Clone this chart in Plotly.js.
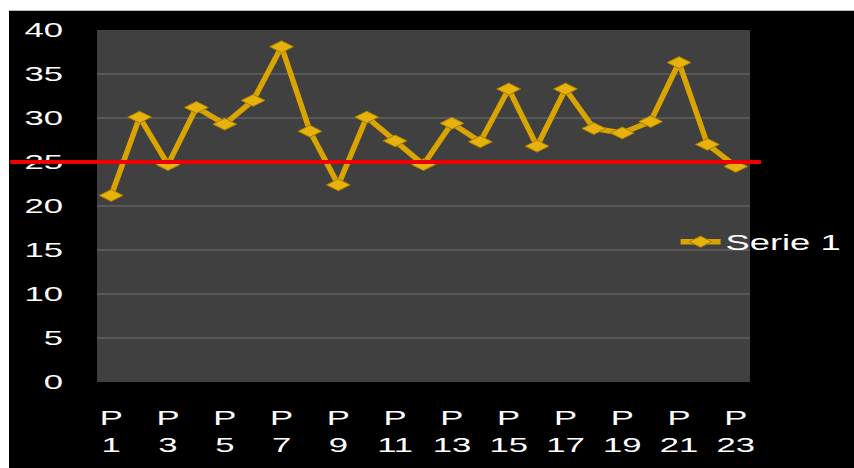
<!DOCTYPE html>
<html>
<head>
<meta charset="utf-8">
<script src="https://cdn.plot.ly/plotly-3.0.1.min.js"></script>
<style>
  html, body { margin: 0; padding: 0; background: #ffffff; }
  #wrap { position: absolute; left: 9px; top: 10px; width: 845px; height: 458px; border-top: 1px solid #bbbbbb; box-sizing: border-box; }
  #chart { width: 845px; height: 457px; }
</style>
</head>
<body>
<div id="wrap"><div id="chart"></div></div>
<script>
const categories = ["P 1","P 2","P 3","P 4","P 5","P 6","P 7","P 8","P 9","P 10","P 11","P 12",
                    "P 13","P 14","P 15","P 16","P 17","P 18","P 19","P 20","P 21","P 22","P 23"];
const serie1 = [21.2, 30.1, 24.7, 31.2, 29.3, 32.0, 38.1, 28.5, 22.4, 30.1, 27.4, 24.7,
                29.4, 27.3, 33.3, 26.8, 33.3, 28.8, 28.3, 29.6, 36.3, 27.0, 24.5];
const seriesName = "Serie 1";
const threshold = 25;
const yTicks = [0, 5, 10, 15, 20, 25, 30, 35, 40];
const xTickCats = categories.filter((c, i) => i % 2 === 0);
const xTickText = xTickCats.map(c => c.replace(" ", "<br>"));

const gold = "#d9a400";
const fontFamily = "Liberation Sans, Arial, Helvetica, sans-serif";
const textStretch = 1.65;

const trace = {
  x: categories,
  y: serie1,
  name: seriesName,
  type: "scatter",
  mode: "lines+markers",
  line: { color: gold, width: 5.5 },
  marker: { symbol: "diamond-wide", size: 17, color: "#e8b20c", line: { color: "#a77d00", width: 1 } },
  showlegend: true
};

const layout = {
  width: 845,
  height: 457,
  paper_bgcolor: "#000000",
  plot_bgcolor: "#404040",
  margin: { l: 88, r: 104, t: 19, b: 86 },
  font: { family: fontFamily, color: "#ffffff", size: 21 },
  xaxis: {
    type: "category",
    range: [-0.5, categories.length - 0.5],
    tickvals: xTickCats,
    ticktext: xTickText,
    showgrid: false,
    zeroline: false,
    showline: false,
    ticks: "",
    ticklabelstandoff: 21,
    tickfont: { family: fontFamily, size: 21, color: "#ffffff" }
  },
  yaxis: {
    range: [0, 40],
    tickvals: yTicks,
    showgrid: true,
    gridcolor: "#585858",
    gridwidth: 2,
    zeroline: false,
    showline: false,
    ticks: "",
    ticklabelstandoff: 33,
    tickfont: { family: fontFamily, size: 21, color: "#ffffff" }
  },
  showlegend: true,
  legend: {
    x: 0.886, xanchor: "left",
    y: 0.398, yanchor: "middle",
    bgcolor: "rgba(0,0,0,0)",
    font: { family: fontFamily, size: 22, color: "#ffffff" },
    itemwidth: 40
  },
  shapes: [{
    type: "line",
    xref: "paper", yref: "y",
    x0: -0.133, x1: 1.017,
    y0: threshold, y1: threshold,
    line: { color: "#ee0000", width: 4 },
    layer: "above"
  }]
};

function stretch(el) {
  const w = el.getComputedTextLength();
  if (w > 0) {
    el.setAttribute("textLength", (w * textStretch).toFixed(2));
    el.setAttribute("lengthAdjust", "spacingAndGlyphs");
  }
}

Plotly.newPlot("chart", [trace], layout, { displayModeBar: false, staticPlot: true }).then(gd => {
  gd.querySelectorAll("g.ytick text, text.legendtext").forEach(stretch);
  gd.querySelectorAll("g.xtick text").forEach(t => {
    const lines = t.querySelectorAll("tspan.line");
    if (lines.length) lines.forEach(stretch); else stretch(t);
  });
  gd.querySelectorAll("g.legend .scrollbox").forEach(e => e.removeAttribute("clip-path"));
});
</script>
</body>
</html>
